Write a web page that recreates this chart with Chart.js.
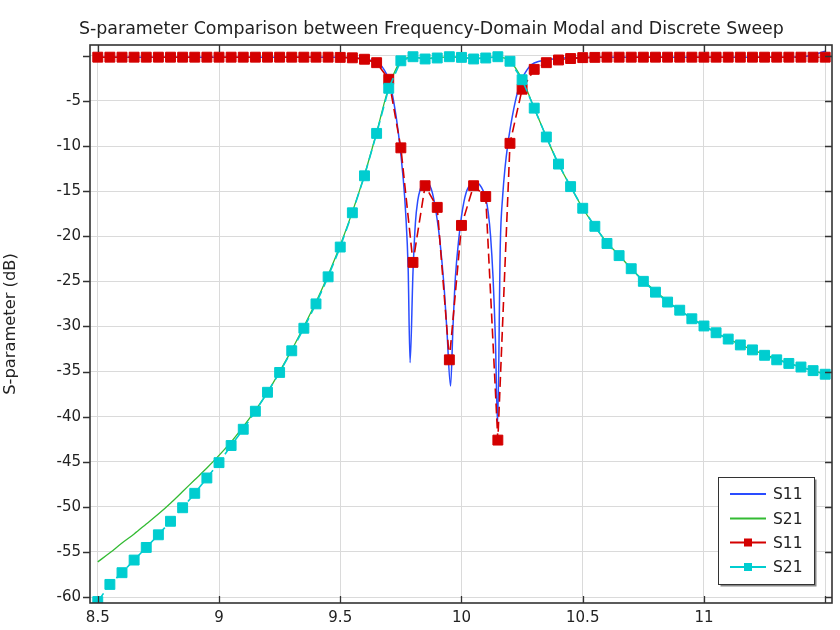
<!DOCTYPE html>
<html>
<head>
<meta charset="utf-8">
<script src="https://cdn.jsdelivr.net/npm/chart.js@4"></script>
<style>
  html, body { margin: 0; padding: 0; background: #fff; }
  #wrap { width: 840px; height: 630px; }
</style>
</head>
<body>
<div id="wrap"><canvas id="chart" width="840" height="630"></canvas></div>
<script>
const title_text = 'S-parameter Comparison between Frequency-Domain Modal and Discrete Sweep'
const y_title = 'S-parameter (dB)'
const legend_labels = ['S11', 'S21', 'S11', 'S21']

const x_ticks = [8.5, 9, 9.5, 10, 10.5, 11, 11.5]
const y_ticks = [-60, -55, -50, -45, -40, -35, -30, -25, -20, -15, -10, -5, 0]

// discrete sweep (markers)
const freq_sweep = [
  8.5, 8.55, 8.6, 8.65, 8.7, 8.75, 8.8, 8.85, 8.9, 8.95,
  9.0, 9.05, 9.1, 9.15, 9.2, 9.25, 9.3, 9.35, 9.4, 9.45,
  9.5, 9.55, 9.6, 9.65, 9.7, 9.75, 9.8, 9.85, 9.9, 9.95,
  10.0, 10.05, 10.1, 10.15, 10.2, 10.25, 10.3, 10.35, 10.4, 10.45,
  10.5, 10.55, 10.6, 10.65, 10.7, 10.75, 10.8, 10.85, 10.9, 10.95,
  11.0, 11.05, 11.1, 11.15, 11.2, 11.25, 11.3, 11.35, 11.4, 11.45,
  11.5
]
const s11_sweep = [
  -0.15, -0.15, -0.15, -0.15, -0.15, -0.15, -0.15, -0.15, -0.15, -0.15,
  -0.15, -0.15, -0.15, -0.15, -0.15, -0.15, -0.15, -0.15, -0.15, -0.15,
  -0.17, -0.22, -0.38, -0.76, -2.6, -10.2, -22.9, -14.4, -16.8, -33.7,
  -18.8, -14.4, -15.6, -42.6, -9.7, -3.7, -1.5, -0.76, -0.46, -0.3,
  -0.2, -0.17, -0.15, -0.15, -0.15, -0.15, -0.15, -0.15, -0.15, -0.15,
  -0.15, -0.15, -0.15, -0.15, -0.15, -0.15, -0.15, -0.15, -0.15, -0.15,
  -0.15
]
const s21_sweep = [
  -60.5, -58.6, -57.3, -55.9, -54.5, -53.1, -51.6, -50.1, -48.5, -46.8,
  -45.1, -43.2, -41.4, -39.4, -37.3, -35.1, -32.7, -30.2, -27.5, -24.5,
  -21.2, -17.4, -13.3, -8.6, -3.6, -0.55, -0.1, -0.35, -0.24, -0.1,
  -0.17, -0.35, -0.24, -0.1, -0.6, -2.65, -5.8, -9.0, -12.0, -14.5,
  -16.9, -18.9, -20.8, -22.15, -23.6, -25.0, -26.2, -27.3, -28.2, -29.15,
  -29.95, -30.7, -31.4, -32.05, -32.6, -33.2, -33.7, -34.1, -34.5, -34.9,
  -35.3
]

// frequency-domain modal (lines)
const freq_s11_modal = [
  8.5, 8.6, 8.7, 8.8, 8.9, 9.0, 9.1, 9.2, 9.3, 9.4, 9.5,
  9.55, 9.6, 9.62, 9.64, 9.66, 9.68, 9.7,
  9.72, 9.74, 9.76, 9.77, 9.78, 9.788,
  9.8, 9.81, 9.82, 9.83, 9.84, 9.855,
  9.87, 9.88, 9.89, 9.9, 9.91, 9.92, 9.93, 9.94,
  9.955, 9.965, 9.975, 9.99,
  10.0, 10.01, 10.02, 10.03, 10.045, 10.06, 10.075, 10.09,
  10.1, 10.11, 10.12, 10.13, 10.14, 10.149,
  10.16, 10.17, 10.18, 10.19, 10.2,
  10.22, 10.24, 10.26, 10.28, 10.3,
  10.35, 10.4, 10.45, 10.5,
  10.6, 10.7, 10.8, 10.9, 11.0, 11.1, 11.2, 11.3,
  11.4, 11.45, 11.5
]
const s11_modal = [
  -0.15, -0.15, -0.15, -0.15, -0.15, -0.15, -0.15, -0.15, -0.15, -0.15, -0.15,
  -0.2, -0.35, -0.45, -0.58, -0.85, -1.5, -2.6,
  -5.0, -8.6, -13.7, -17.5, -23.5, -34.0,
  -24.0, -18.5, -16.0, -14.8, -14.2, -14.0,
  -14.4, -15.2, -16.5, -18.2, -20.3, -23.0, -26.3, -30.5,
  -36.6, -30.0, -24.5, -20.0,
  -17.8, -16.2, -15.1, -14.5, -14.1, -14.0, -14.3, -15.0,
  -15.8, -17.3, -20.0, -24.5, -31.5, -41.0,
  -21.0, -15.5, -12.3, -10.0, -8.2,
  -5.3, -3.2, -2.0, -1.2, -0.8,
  -0.45, -0.3, -0.22, -0.18,
  -0.15, -0.15, -0.15, -0.15, -0.15, -0.15, -0.15, -0.15,
  -0.1, 0.1, 0.5
]
const freq_s21_modal = freq_sweep
const s21_modal = [
  -56.1, -55.1, -54.0, -53.0, -51.9, -50.8, -49.6, -48.3, -47.0, -45.7,
  -44.3, -42.8, -41.1, -39.3, -37.3, -35.0, -32.6, -30.0, -27.3, -24.3,
  -21.0, -17.3, -13.2, -8.5, -3.5, -0.6, -0.15, -0.3, -0.2, -0.12,
  -0.2, -0.3, -0.2, -0.15, -0.6, -2.6, -5.8, -9.0, -12.0, -14.5,
  -16.9, -18.9, -20.7, -22.1, -23.6, -24.9, -26.1, -27.2, -28.2, -29.1,
  -29.9, -30.7, -31.4, -32.0, -32.6, -33.1, -33.6, -34.1, -34.5, -34.9,
  -35.3
]

const blue = '#2a4cff'
const green = '#33bb33'
const red = '#d40000'
const cyan = '#00cdd0'
const font_name = '"DejaVu Sans", sans-serif'

function pairs(xs, ys) {
  return xs.map((x, i) => ({ x: x, y: ys[i] }))
}

const decor = {
  id: 'decor',
  afterDraw(chart) {
    const ctx = chart.ctx
    const a = chart.chartArea
    const xs = chart.scales.x
    const ys = chart.scales.y
    ctx.save()

    // frame
    ctx.strokeStyle = '#333'
    ctx.lineWidth = 1.6
    ctx.strokeRect(a.left, a.top, a.right - a.left, a.bottom - a.top)

    // tick marks
    ctx.lineWidth = 1.3
    ctx.beginPath()
    for (const v of x_ticks) {
      const px = Math.round(xs.getPixelForValue(v)) + 0.5
      ctx.moveTo(px, a.bottom); ctx.lineTo(px, a.bottom - 7)
      ctx.moveTo(px, a.top); ctx.lineTo(px, a.top + 7)
    }
    for (const v of y_ticks) {
      const py = Math.round(ys.getPixelForValue(v)) + 0.5
      ctx.moveTo(a.left, py); ctx.lineTo(a.left - 7, py)
      ctx.moveTo(a.right, py); ctx.lineTo(a.right - 7, py)
    }
    ctx.stroke()

    // title
    ctx.fillStyle = '#222'
    ctx.font = '17.4px ' + font_name
    ctx.textAlign = 'left'
    ctx.textBaseline = 'alphabetic'
    ctx.fillText(title_text, 79, 34)

    // legend
    const bx = 718.5, by = 477.5, bw = 96, bh = 107
    ctx.fillStyle = '#888'
    ctx.fillRect(bx + 2, by + 2, bw, bh)
    ctx.fillStyle = '#fff'
    ctx.fillRect(bx, by, bw, bh)
    ctx.strokeStyle = '#333'
    ctx.lineWidth = 1
    ctx.strokeRect(bx, by, bw, bh)

    const rows = [494, 518.5, 542.5, 567]
    chart.data.datasets.forEach((ds, i) => {
      const y = rows[i]
      ctx.strokeStyle = ds.borderColor
      ctx.lineWidth = 2
      ctx.setLineDash([])
      ctx.beginPath()
      ctx.moveTo(730, y); ctx.lineTo(766, y)
      ctx.stroke()
      if (ds.pointRadius > 0) {
        ctx.fillStyle = ds.pointBackgroundColor
        ctx.fillRect(748 - 4, y - 4, 8, 8)
      }
      ctx.fillStyle = '#222'
      ctx.font = '15.5px ' + font_name
      ctx.textBaseline = 'middle'
      ctx.fillText(legend_labels[i], 773, y + 1)
    })
    ctx.restore()
  }
}

const chart = new Chart(document.getElementById('chart'), {
  type: 'line',
  data: {
    datasets: [
      {
        label: legend_labels[0],
        data: pairs(freq_s11_modal, s11_modal),
        borderColor: blue,
        borderWidth: 1.5,
        pointRadius: 0,
        cubicInterpolationMode: 'monotone',
        order: 4,
        clip: 0
      },
      {
        label: legend_labels[1],
        data: pairs(freq_s21_modal, s21_modal),
        borderColor: green,
        borderWidth: 1.3,
        pointRadius: 0,
        cubicInterpolationMode: 'monotone',
        order: 3,
        clip: 0
      },
      {
        label: legend_labels[2],
        data: pairs(freq_sweep, s11_sweep),
        borderColor: red,
        borderWidth: 1.6,
        borderDash: [10, 5],
        pointStyle: 'rect',
        pointRadius: 7,
        pointBorderWidth: 1,
        pointBackgroundColor: red,
        pointBorderColor: red,
        order: 2,
        clip: 0
      },
      {
        label: legend_labels[3],
        data: pairs(freq_sweep, s21_sweep),
        borderColor: cyan,
        borderWidth: 1.6,
        borderDash: [10, 5],
        pointStyle: 'rect',
        pointRadius: 7,
        pointBorderWidth: 1,
        pointBackgroundColor: cyan,
        pointBorderColor: cyan,
        order: 1,
        clip: 0
      }
    ]
  },
  options: {
    responsive: false,
    animation: false,
    events: [],
    layout: { padding: { top: 45, right: 8, left: 0, bottom: 0 } },
    plugins: {
      legend: { display: false },
      tooltip: { enabled: false },
      title: { display: false }
    },
    scales: {
      x: {
        type: 'linear',
        min: 8.468,
        max: 11.528,
        afterBuildTicks: s => { s.ticks = x_ticks.map(v => ({ value: v })) },
        afterFit: s => { s.height = 27 },
        grid: { color: '#dadada', lineWidth: 1, drawTicks: false },
        border: { display: false },
        ticks: {
          padding: 6,
          color: '#222',
          font: { family: font_name, size: 15 },
          maxRotation: 0,
          autoSkip: false,
          callback: v => v === 11.5 ? '' : String(v)
        }
      },
      y: {
        type: 'linear',
        min: -60.66,
        max: 1.2,
        afterBuildTicks: s => { s.ticks = y_ticks.map(v => ({ value: v })) },
        afterFit: s => { s.width = 90 },
        grid: { color: '#dadada', lineWidth: 1, drawTicks: false },
        border: { display: false },
        title: {
          display: true,
          text: y_title,
          color: '#222',
          font: { family: font_name, size: 16.3 },
          padding: { top: 1, bottom: 0 }
        },
        ticks: {
          padding: 9,
          color: '#222',
          font: { family: font_name, size: 15 },
          autoSkip: false,
          callback: v => v === 0 ? '' : String(v)
        }
      }
    }
  },
  plugins: [decor]
})
</script>
</body>
</html>
